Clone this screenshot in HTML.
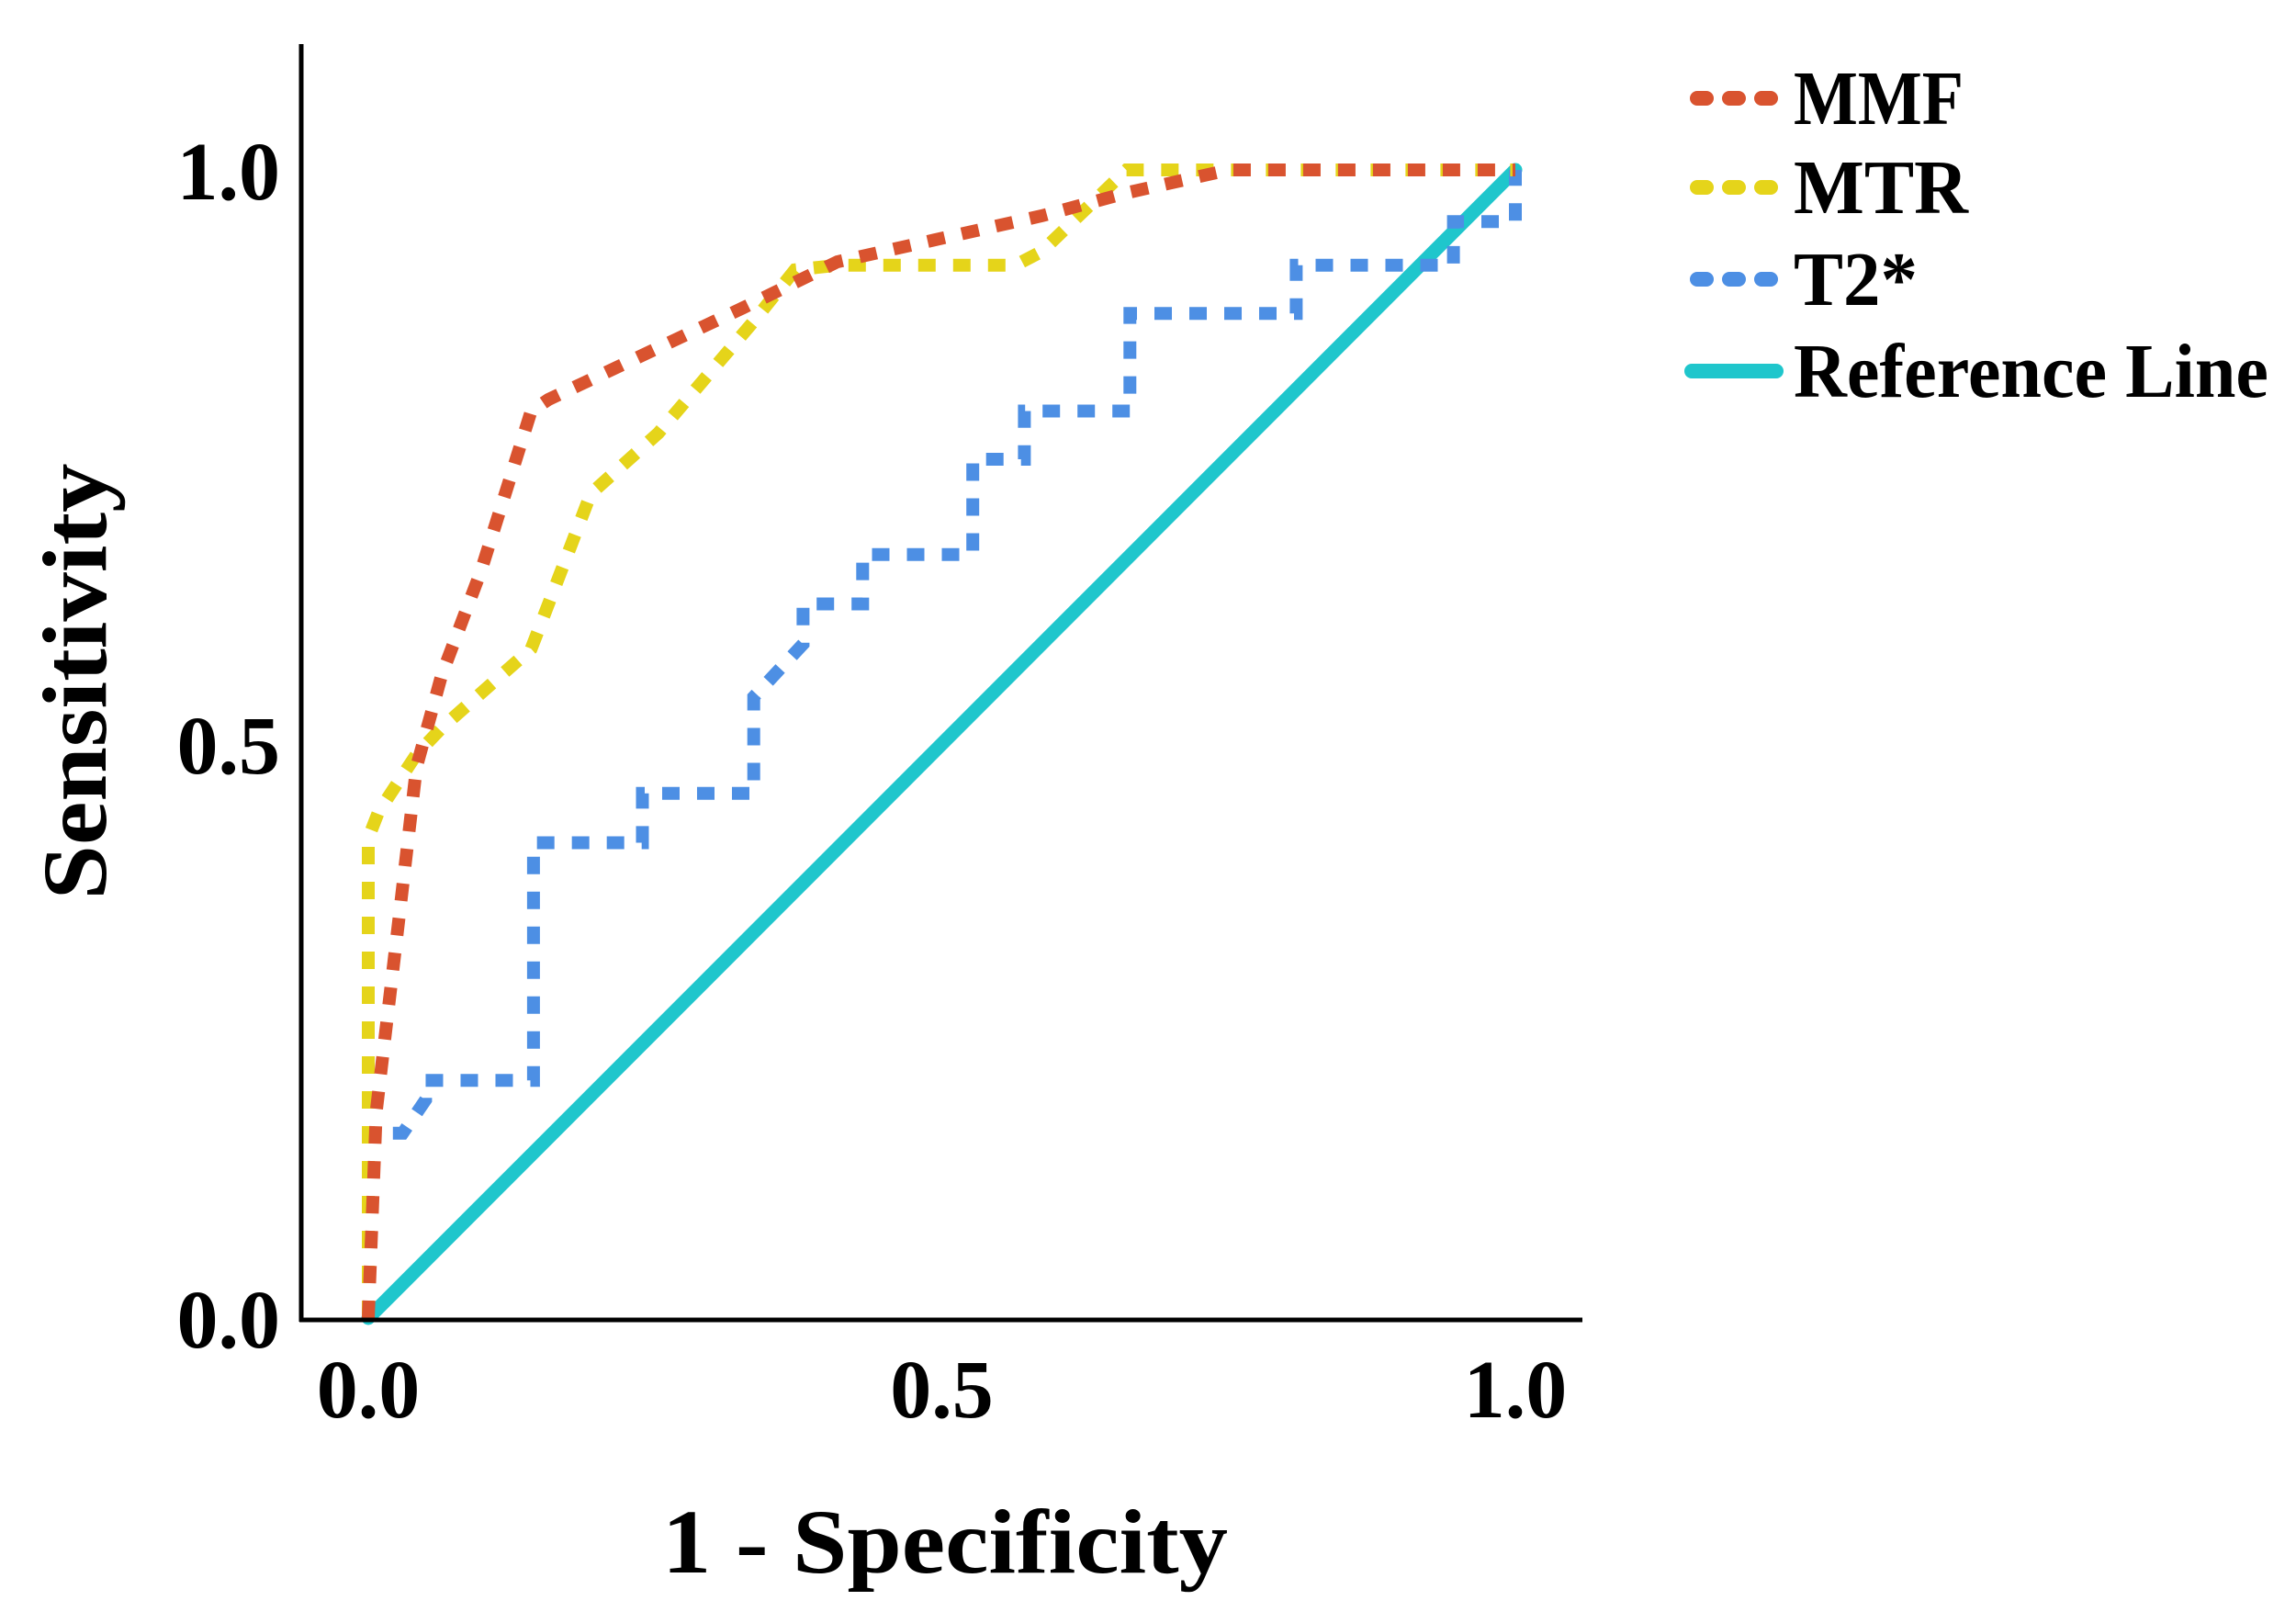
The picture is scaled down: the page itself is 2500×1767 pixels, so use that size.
<!DOCTYPE html>
<html><head><meta charset="utf-8"><style>
html,body{margin:0;padding:0;background:#fff}
svg{display:block}
text{font-family:"Liberation Serif",serif;font-weight:bold;fill:#000}
</style></head><body>
<svg id="chart" width="2500" height="1767" viewBox="0 0 2500 1767" xmlns="http://www.w3.org/2000/svg">
<g id="plot"></g>
<line x1="328" y1="48" x2="328" y2="1439" stroke="#000" stroke-width="5"/>
<line x1="326" y1="1437" x2="1723" y2="1437" stroke="#000" stroke-width="5"/>
<g id="ticks"></g>
<text x="1029" y="1712" font-size="100" text-anchor="middle" textLength="616" lengthAdjust="spacingAndGlyphs">1 - Specificity</text>
<text transform="translate(115,742) rotate(-90)" font-size="100" text-anchor="middle" textLength="475" lengthAdjust="spacingAndGlyphs">Sensitivity</text>
<g id="legend"></g>
</svg>
<script>
const seriesNames = ["MMF","MTR","T2*"];
const mmfX = [0,0.007,0.027,0.042,0.064,0.098,0.142,0.157,0.327,0.409,0.587,0.661,0.75,1];
const mmfY = [0,0.18,0.35,0.48,0.56,0.65,0.79,0.80,0.88,0.92,0.96,0.98,1,1];
const mtrX = [0,0,0.009,0.042,0.064,0.142,0.176,0.194,0.253,0.335,0.372,0.409,0.564,0.587,0.661,1];
const mtrY = [0,0.418,0.441,0.491,0.514,0.583,0.671,0.718,0.771,0.867,0.913,0.917,0.917,0.929,1,1];
const t2X = [0,0,0.03,0.05,0.05,0.144,0.144,0.239,0.239,0.336,0.336,0.379,0.379,0.431,0.431,0.527,0.527,0.572,0.572,0.664,0.664,0.809,0.809,0.946,0.946,1,1];
const t2Y = [0,0.161,0.161,0.19,0.207,0.207,0.414,0.414,0.457,0.457,0.541,0.587,0.622,0.622,0.665,0.665,0.748,0.748,0.790,0.790,0.875,0.875,0.917,0.917,0.955,0.955,1];
const refX = [0,1];
const refY = [0,1];
const tickValues = [0,0.5,1];
const tickLabels = ["0.0","0.5","1.0"];
const legendLabels = ["MMF","MTR","T2*","Reference Line"];

const NS="http://www.w3.org/2000/svg";
const X0=401,X1=1650,Y0=1435,Y1=185;
function sx(v){return X0+(X1-X0)*v;}
function sy(v){return Y0-(Y0-Y1)*v;}
function mk(tag,attrs,parent){const e=document.createElementNS(NS,tag);for(const k in attrs)e.setAttribute(k,attrs[k]);parent.appendChild(e);return e;}
const plot=document.getElementById('plot');
function pts(xs,ys){return xs.map((x,i)=>sx(x).toFixed(1)+','+sy(ys[i]).toFixed(1)).join(' ');}

const ref=mk('polyline',{points:pts(refX,refY),fill:'none',stroke:'#1fc6cc','stroke-width':15,'stroke-linecap':'round'},plot);


const t2=mk('polyline',{points:pts(t2X,t2Y),fill:'none',stroke:'#4d8fe4','stroke-width':14,'stroke-dasharray':'19 19'},plot);


const mtr=mk('polyline',{points:pts(mtrX,mtrY),fill:'none',stroke:'#e5d41a','stroke-width':14,'stroke-dasharray':'19 19'},plot);


const mmf=mk('polyline',{points:pts(mmfX,mmfY),fill:'none',stroke:'#d9532f','stroke-width':14,'stroke-dasharray':'19 19'},plot);



const ticks=document.getElementById('ticks');
tickValues.forEach((v,i)=>{
  const ty=mk('text',{x:305,y:sy(v)+32,'font-size':90,'text-anchor':'end'},ticks);
  ty.textContent=tickLabels[i];
  
  
  const tx=mk('text',{x:sx(v),y:1543,'font-size':90,'text-anchor':'middle'},ticks);
  tx.textContent=tickLabels[i];
  
  
});

const leg=document.getElementById('legend');
const legColors=['#d9532f','#e5d41a','#4d8fe4','#1fc6cc'];
const legY=[107,204,304,404];
const legW=[185,190,135,517];
legendLabels.forEach((l,i)=>{
  const attrs={x1:1842,y1:legY[i],x2:1934,y2:legY[i],stroke:legColors[i],'stroke-width':16,'stroke-linecap':'round'};
  if(i<3){attrs['stroke-dasharray']='10 25';attrs.x1=1848;attrs.x2=1930;}
  const sw=mk('line',attrs,leg);
  
  
  const t=mk('text',{x:1953,y:legY[i]+28,'font-size':84,textLength:legW[i],lengthAdjust:'spacingAndGlyphs'},leg);
  t.textContent=l;
  
  
});
</script>
</body></html>
